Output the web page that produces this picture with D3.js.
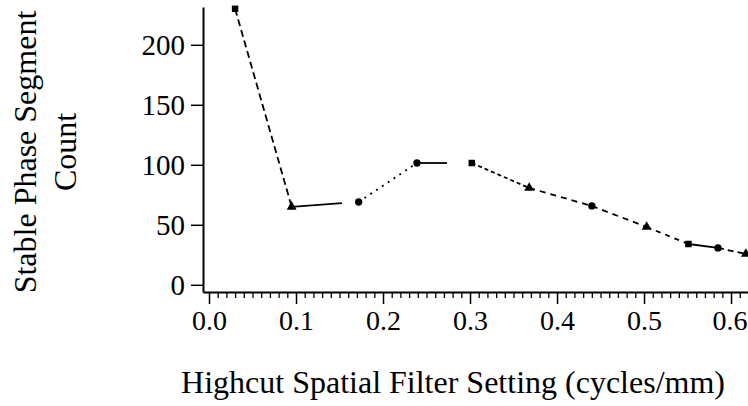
<!DOCTYPE html>
<html>
<head>
<meta charset="utf-8">
<script src="https://cdn.jsdelivr.net/npm/d3@7"></script>
<style>
  html, body { margin: 0; padding: 0; background: #fff; }
  svg { display: block; }
  text { font-family: "Liberation Serif", "Times New Roman", serif; fill: #000; }
</style>
</head>
<body>
<svg id="chart" width="748" height="406"></svg>
<script>
// Highcut filter setting (cycles/mm) and the stable phase segment count at each setting
const filterSettings = [0.030, 0.095, 0.172, 0.239, 0.302, 0.368, 0.440, 0.503, 0.551, 0.585, 0.617];
const segmentCounts  = [230, 65, 69, 101.5, 101.5, 80.7, 65.7, 48.2, 34, 30.7, 25.7];
const xTickValues = [0, 0.1, 0.2, 0.3, 0.4, 0.5, 0.6];
const xTickLabels = ["0.0", "0.1", "0.2", "0.3", "0.4", "0.5", "0.6"];
const yTickValues = [0, 50, 100, 150, 200];
const yTickLabels = ["0", "50", "100", "150", "200"];

const svg = d3.select("#chart");
const plotLeft = 203, plotRight = 748, plotTop = 7, plotBottom = 292;

const x = d3.scaleLinear().domain([-0.0069, 0.6195]).range([plotLeft, plotRight]);
const y = d3.scaleLinear().domain([-6, 231.5]).range([plotBottom, plotTop]);

// y axis
const yAxis = d3.axisLeft(y)
  .tickValues(yTickValues)
  .tickFormat((d, i) => yTickLabels[i])
  .tickSize(12).tickSizeOuter(0).tickPadding(6);
const gy = svg.append("g").attr("transform", `translate(${plotLeft},0)`).call(yAxis);
gy.select(".domain").attr("stroke-width", 2);
gy.selectAll(".tick line").attr("stroke-width", 1.5);
gy.selectAll("text").style("font-size", "29px").attr("dy", "0.33em");

// x axis: minor ticks every 0.01, labelled major ticks every 0.1
const minor = d3.range(0, 62).map(i => i / 100).filter(v => Math.round(v * 100) % 10 !== 0);
const xMinor = d3.axisBottom(x).tickValues(minor).tickFormat("").tickSize(6).tickSizeOuter(0);
const gxm = svg.append("g").attr("transform", `translate(0,${plotBottom})`).call(xMinor);
gxm.select(".domain").remove();
gxm.selectAll(".tick line").attr("stroke-width", 1.3);

const xAxis = d3.axisBottom(x)
  .tickValues(xTickValues)
  .tickFormat((d, i) => xTickLabels[i])
  .tickSize(12).tickSizeOuter(0).tickPadding(6);
const gx = svg.append("g").attr("transform", `translate(0,${plotBottom})`).call(xAxis);
gx.select(".domain").attr("stroke-width", 2);
gx.selectAll(".tick line").attr("stroke-width", 1.5);
gx.selectAll("text").style("font-size", "28px");
// the last label sits against the right edge of the frame
gx.selectAll(".tick text").filter(d => d === 0.6)
  .attr("text-anchor", "end").attr("x", plotRight - x(0.6) - 1);

// connecting segments, each with its own stroke pattern
const points = filterSettings.map((v, i) => [x(v), y(segmentCounts[i])]);
const dashes = ["7,4", 0.75, "2,5", 0.55, "4,3", "6,5", "6,5", "5,5", "solid", "6,4"];
for (let i = 0; i < points.length - 1; i++) {
  const [x0, y0] = points[i], [x1, y1] = points[i + 1];
  const len = Math.hypot(x1 - x0, y1 - y0);
  let pattern = dashes[i];
  if (typeof pattern === "number") pattern = `${(len * pattern).toFixed(1)},${len}`;
  if (pattern === "solid") pattern = null;
  svg.append("line")
    .attr("x1", x0).attr("y1", y0).attr("x2", x1).attr("y2", y1)
    .attr("stroke", "#000").attr("stroke-width", 1.8)
    .attr("stroke-dasharray", pattern);
}

// point markers
const shapes = [d3.symbolSquare, d3.symbolTriangle, d3.symbolCircle, d3.symbolCircle,
                d3.symbolSquare, d3.symbolTriangle, d3.symbolCircle, d3.symbolTriangle,
                d3.symbolSquare, d3.symbolCircle, d3.symbolTriangle];
svg.append("g").selectAll("path")
  .data(filterSettings)
  .join("path")
  .attr("transform", (d, i) => `translate(${x(d)},${y(segmentCounts[i])})`)
  .attr("d", (d, i) => d3.symbol().type(shapes[i]).size(42)())
  .attr("fill", "#000");

// axis titles
svg.append("text")
  .attr("x", 453).attr("y", 393)
  .attr("text-anchor", "middle")
  .style("font-size", "32px")
  .text("Highcut Spatial Filter Setting (cycles/mm)");

const yTitle = svg.append("text")
  .attr("transform", "translate(36,152) rotate(-90)")
  .attr("text-anchor", "middle")
  .style("font-size", "32px");
yTitle.append("tspan").attr("x", 0).attr("y", 0).text("Stable Phase Segment");
yTitle.append("tspan").attr("x", 0).attr("y", 40).text("Count");
</script>
</body>
</html>
